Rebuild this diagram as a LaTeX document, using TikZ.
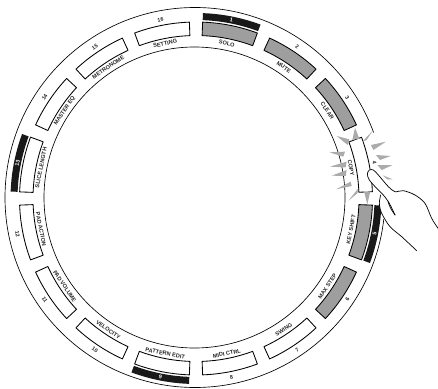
\documentclass[tikz,border=0pt]{standalone}
\usepackage{fontspec}
\setmainfont{Liberation Sans}
\tikzset{
  x=1pt,y=-1pt,
  btn/.style={draw=black,line width=0.85pt,line join=round},
  blackbar/.style={fill=black!90,draw=none},
  lab/.style={font=\fontsize{5.6}{6}\selectfont\bfseries,inner sep=0pt,text=black!85},
  num/.style={font=\fontsize{5.4}{6}\selectfont\bfseries,inner sep=0pt,text=black!85},
  wnum/.style={font=\fontsize{5.4}{6}\selectfont\bfseries,inner sep=0pt,text=white},
  spark/.style={fill=black!33,draw=none},
  ring/.style={draw=black,line width=0.65pt},
  handline/.style={draw=black,line width=0.7pt,line join=round,line cap=round},
}
\def\cx{196}\def\cy{198.5}
\newcommand{\sector}[4]{% style, angle, r1, r2
  \pgfmathsetmacro{\aa}{#2-9.1}\pgfmathsetmacro{\ab}{#2+9.1}
  \path[#1] plot[domain=\aa:\ab,samples=16] ({\cx+#4*cos(\x)},{\cy-#4*sin(\x)})
     -- plot[domain=\ab:\aa,samples=16] ({\cx+#3*cos(\x)},{\cy-#3*sin(\x)}) -- cycle;
}
\newcommand{\ringlabel}[5]{% name, style, angle, radius, text
  \pgfmathsetmacro{\rot}{#3<0 ? #3+90 : #3-90}
  \pgfmathsetmacro{\px}{\cx+#4*cos(#3)}\pgfmathsetmacro{\py}{\cy-#4*sin(#3)}
  \node[#2,rotate=\rot] (#1) at (\px,\py) {#5};
}
\newcommand{\zc}[2]{({360+#1/3},{160+#2/3})}
\newcommand{\sparktri}[6]{\fill[spark] ({280+#1/3},{90+#2/3}) -- ({280+#3/3},{90+#4/3}) -- ({280+#5/3},{90+#6/3}) -- cycle;}
\begin{document}
\begin{tikzpicture}
\useasboundingbox (0,0) rectangle (438,388);
\fill[white] (0,0) rectangle (438,388);
% rings
\draw[ring] (195,197.5) circle[radius=190];
\draw[ring] (194.5,197.5) circle[radius=150.5];
% gap in the outer ring beside the pressed button
\draw[white,line width=2pt] plot[domain=-6.5:20,samples=16] ({195+190*cos(\x)},{197.5-190*sin(\x)});
% buttons
\foreach \ang/\fc in {78.75/black!38,56.25/black!38,33.75/black!38,-11.25/black!38,-33.75/black!38,-56.25/white,-78.75/white,-101.25/white,-123.75/white,-146.25/white,-168.75/white,168.75/white,146.25/white,123.75/white,101.25/white}{
  \sector{btn,fill=\fc}{\ang}{163}{176.5}
}
% pressed button, partly behind the finger
\draw[btn] plot[domain=3:20.3,samples=14] ({\cx+163*cos(\x)},{\cy-163*sin(\x)})
   -- plot[domain=20.3:9.5,samples=10] ({\cx+176.5*cos(\x)},{\cy-176.5*sin(\x)});
\draw[btn] plot[domain=5:2.2,samples=4] ({\cx+176.5*cos(\x)},{\cy-176.5*sin(\x)})
   -- ({\cx+172*cos(2.2)},{\cy-172*sin(2.2)});
\draw[btn] ({\cx+168.5*cos(2.2)},{\cy-168.5*sin(2.2)}) -- ({\cx+163*cos(2.2)},{\cy-163*sin(2.2)}) -- ({\cx+163*cos(3.2)},{\cy-163*sin(3.2)});
% lit indicators
\foreach \ang in {78.75,-11.25,-101.25,168.75}{
  \sector{blackbar}{\ang}{178.5}{185.5}
}
% labels
\ringlabel{l1}{lab}{78.75}{158}{SOLO}
\ringlabel{l2}{lab}{56.25}{158}{MUTE}
\ringlabel{l3}{lab}{33.75}{158}{CLEAR}
\ringlabel{l4}{lab}{11.25}{158}{COPY}
\ringlabel{l5}{lab}{-11.25}{158}{KEY SHIFT}
\ringlabel{l6}{lab}{-33.75}{158}{MAX STEP}
\ringlabel{l7}{lab}{-56.25}{158}{SWING}
\ringlabel{l8}{lab}{-78.75}{158}{MIDI CTRL}
\ringlabel{l9}{lab}{-101.25}{158}{PATTERN EDIT}
\ringlabel{l10}{lab}{-123.75}{158}{VELOCITY}
\ringlabel{l11}{lab}{-146.25}{158}{PAD VOLUME}
\ringlabel{l12}{lab}{-168.75}{158}{PAD ACTION}
\ringlabel{l13}{lab}{168.75}{158}{SLICE LENGTH}
\ringlabel{l14}{lab}{146.25}{158}{MASTER EQ}
\ringlabel{l15}{lab}{123.75}{158}{METRONOME}
\ringlabel{l16}{lab}{101.25}{158}{SETTING}
% numbers
\ringlabel{n1}{wnum}{78.75}{182}{1}
\ringlabel{n2}{num}{56.25}{182}{2}
\ringlabel{n3}{num}{33.75}{182}{3}
\ringlabel{n4}{num}{11.25}{182}{4}
\ringlabel{n5}{wnum}{-11.25}{182}{5}
\ringlabel{n6}{num}{-33.75}{182}{6}
\ringlabel{n7}{num}{-56.25}{182}{7}
\ringlabel{n8}{num}{-78.75}{182}{8}
\ringlabel{n9}{wnum}{-101.25}{182}{9}
\ringlabel{n10}{num}{-123.75}{182}{10}
\ringlabel{n11}{num}{-146.25}{182}{11}
\ringlabel{n12}{num}{-168.75}{182}{12}
\ringlabel{n13}{wnum}{168.75}{182}{13}
\ringlabel{n14}{num}{146.25}{182}{14}
\ringlabel{n15}{num}{123.75}{182}{15}
\ringlabel{n16}{num}{101.25}{182}{16}
% sparks
\sparktri{225}{113}{217}{150}{238}{146}
\sparktri{170}{138}{208}{148}{203}{165}
\sparktri{278}{122}{246}{156}{260}{150}
\sparktri{318}{155}{273}{165}{280}{180}
\sparktri{332}{198}{288}{195}{300}{210}
\sparktri{338}{225}{292}{225}{305}{240}
\sparktri{338}{268}{308}{256}{322}{268}
\sparktri{148}{187}{195}{185}{190}{200}
\sparktri{150}{230}{200}{215}{197}{232}
\sparktri{155}{257}{200}{240}{197}{258}
\sparktri{168}{298}{212}{275}{215}{288}
\sparktri{205}{332}{235}{295}{232}{310}
\sparktri{262}{343}{252}{304}{271}{304}
% hand
\fill[white] plot[smooth] coordinates {\zc{235}{205} \zc{215}{175} \zc{195}{130} \zc{165}{105} \zc{130}{92} \zc{105}{95} \zc{85}{80} \zc{55}{45} \zc{40}{30} \zc{28}{30} \zc{22}{42} \zc{28}{60} \zc{50}{85} \zc{62}{105} \zc{58}{130} \zc{65}{160} \zc{90}{200} \zc{125}{230} \zc{170}{272}} -- \zc{234}{272} -- cycle;
\draw[handline] plot[smooth] coordinates {\zc{234}{205} \zc{215}{175} \zc{195}{130} \zc{165}{105} \zc{130}{92} \zc{105}{95} \zc{85}{80} \zc{55}{45} \zc{40}{30} \zc{28}{30} \zc{22}{42} \zc{28}{60} \zc{50}{85} \zc{70}{105} \zc{88}{130} \zc{105}{165}};
\draw[handline] plot[smooth] coordinates {\zc{84}{125} \zc{92}{145} \zc{105}{165}};
\draw[handline] plot[smooth] coordinates {\zc{62}{105} \zc{58}{130} \zc{65}{160} \zc{90}{200} \zc{125}{230} \zc{170}{272}};
\end{tikzpicture}
\end{document}
